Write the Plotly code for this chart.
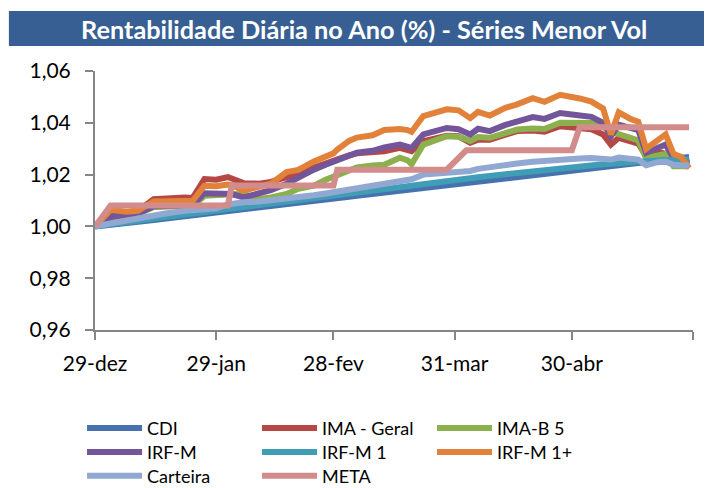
import plotly.graph_objects as go

dates = ["2014-12-29", "2015-01-02", "2015-01-06", "2015-01-09", "2015-01-13", "2015-01-16",
         "2015-01-21", "2015-01-23", "2015-01-26", "2015-01-29", "2015-02-01", "2015-02-02",
         "2015-02-05", "2015-02-09", "2015-02-12", "2015-02-16", "2015-02-19", "2015-02-23",
         "2015-02-26", "2015-02-28", "2015-03-01", "2015-03-04", "2015-03-06", "2015-03-10",
         "2015-03-13", "2015-03-17", "2015-03-19", "2015-03-20", "2015-03-23", "2015-03-26",
         "2015-03-29", "2015-04-01", "2015-04-04", "2015-04-06", "2015-04-09", "2015-04-13",
         "2015-04-16", "2015-04-20", "2015-04-23", "2015-04-27", "2015-04-30", "2015-05-02",
         "2015-05-05", "2015-05-08", "2015-05-10", "2015-05-12", "2015-05-15", "2015-05-17",
         "2015-05-19", "2015-05-22", "2015-05-24", "2015-05-26", "2015-05-28", "2015-05-30"]

cdi = [1.0000, 1.0005, 1.0012, 1.0018, 1.0025, 1.0030, 1.0039, 1.0042, 1.0048, 1.0053,
       1.0058, 1.0060, 1.0066, 1.0073, 1.0078, 1.0085, 1.0090, 1.0098, 1.0103, 1.0107,
       1.0109, 1.0114, 1.0118, 1.0125, 1.0130, 1.0138, 1.0141, 1.0143, 1.0148, 1.0154,
       1.0159, 1.0165, 1.0170, 1.0174, 1.0179, 1.0186, 1.0192, 1.0198, 1.0203, 1.0210,
       1.0215, 1.0219, 1.0224, 1.0229, 1.0233, 1.0237, 1.0242, 1.0245, 1.0249, 1.0254,
       1.0257, 1.0261, 1.0264, 1.0268]

ima_geral = [1.0000, 1.0060, 1.0055, 1.0060, 1.0105, 1.0109, 1.0112, 1.0110, 1.0183, 1.0180,
             1.0190, 1.0185, 1.0167, 1.0165, 1.0172, 1.0190, 1.0206, 1.0232, 1.0248, 1.0256,
             1.0262, 1.0274, 1.0282, 1.0285, 1.0290, 1.0303, 1.0298, 1.0290, 1.0329, 1.0340,
             1.0350, 1.0348, 1.0323, 1.0335, 1.0335, 1.0354, 1.0368, 1.0370, 1.0366, 1.0387,
             1.0383, 1.0380, 1.0375, 1.0355, 1.0316, 1.0342, 1.0330, 1.0320, 1.0271, 1.0288,
             1.0280, 1.0258, 1.0250, 1.0238]

ima_b5 = [1.0000, 1.0030, 1.0042, 1.0048, 1.0075, 1.0076, 1.0078, 1.0080, 1.0118, 1.0122,
          1.0125, 1.0124, 1.0125, 1.0106, 1.0112, 1.0125, 1.0145, 1.0157, 1.0180, 1.0192,
          1.0200, 1.0222, 1.0228, 1.0235, 1.0238, 1.0265, 1.0255, 1.0240, 1.0316, 1.0332,
          1.0348, 1.0346, 1.0330, 1.0345, 1.0342, 1.0360, 1.0374, 1.0378, 1.0376, 1.0400,
          1.0400, 1.0400, 1.0399, 1.0385, 1.0365, 1.0356, 1.0345, 1.0332, 1.0264, 1.0272,
          1.0280, 1.0232, 1.0230, 1.0232]

irf_m = [1.0000, 1.0036, 1.0045, 1.0050, 1.0078, 1.0078, 1.0080, 1.0082, 1.0128, 1.0127,
         1.0128, 1.0125, 1.0112, 1.0130, 1.0140, 1.0165, 1.0190, 1.0219, 1.0238, 1.0250,
         1.0258, 1.0275, 1.0285, 1.0292, 1.0305, 1.0316, 1.0310, 1.0303, 1.0355, 1.0370,
         1.0380, 1.0375, 1.0355, 1.0377, 1.0368, 1.0392, 1.0405, 1.0422, 1.0415, 1.0438,
         1.0432, 1.0428, 1.0423, 1.0400, 1.0348, 1.0393, 1.0380, 1.0372, 1.0284, 1.0305,
         1.0316, 1.0264, 1.0255, 1.0245]

irf_m1 = [1.0000, 1.0006, 1.0015, 1.0022, 1.0030, 1.0036, 1.0045, 1.0048, 1.0055, 1.0060,
          1.0066, 1.0068, 1.0075, 1.0082, 1.0088, 1.0094, 1.0100, 1.0110, 1.0116, 1.0120,
          1.0122, 1.0128, 1.0132, 1.0140, 1.0146, 1.0154, 1.0156, 1.0157, 1.0165, 1.0170,
          1.0176, 1.0182, 1.0187, 1.0190, 1.0195, 1.0202, 1.0207, 1.0213, 1.0218, 1.0224,
          1.0228, 1.0232, 1.0236, 1.0240, 1.0242, 1.0245, 1.0248, 1.0250, 1.0252, 1.0254,
          1.0255, 1.0256, 1.0257, 1.0258]

irf_m1_plus = [1.0000, 1.0064, 1.0057, 1.0060, 1.0096, 1.0096, 1.0098, 1.0099, 1.0157, 1.0155,
               1.0162, 1.0160, 1.0138, 1.0152, 1.0165, 1.0210, 1.0218, 1.0251, 1.0270, 1.0282,
               1.0297, 1.0330, 1.0343, 1.0352, 1.0372, 1.0376, 1.0372, 1.0365, 1.0426, 1.0438,
               1.0452, 1.0448, 1.0418, 1.0442, 1.0428, 1.0458, 1.0471, 1.0495, 1.0481, 1.0508,
               1.0502, 1.0494, 1.0482, 1.0455, 1.0355, 1.0440, 1.0415, 1.0404, 1.0300, 1.0330,
               1.0355, 1.0280, 1.0268, 1.0225]

carteira = [1.0000, 1.0012, 1.0025, 1.0032, 1.0045, 1.0050, 1.0060, 1.0063, 1.0068, 1.0070,
            1.0085, 1.0088, 1.0093, 1.0096, 1.0100, 1.0106, 1.0112, 1.0120, 1.0127, 1.0132,
            1.0140, 1.0146, 1.0152, 1.0160, 1.0168, 1.0180, 1.0180, 1.0182, 1.0200, 1.0203,
            1.0207, 1.0210, 1.0214, 1.0222, 1.0230, 1.0238, 1.0243, 1.0250, 1.0254, 1.0259,
            1.0261, 1.0262, 1.0264, 1.0262, 1.0258, 1.0266, 1.0262, 1.0258, 1.0236, 1.0248,
            1.0250, 1.0238, 1.0236, 1.0235]

meta_dates = ["2014-12-29", "2015-01-02", "2015-02-01", "2015-02-02", "2015-02-28", "2015-03-01",
              "2015-03-29", "2015-04-03", "2015-04-30", "2015-05-02", "2015-05-30"]
meta = [1.0000, 1.0081, 1.0081, 1.0158, 1.0158, 1.0219, 1.0219, 1.0294, 1.0294, 1.0383, 1.0383]

tick_dates = ["2014-12-29", "2015-01-29", "2015-02-28", "2015-03-31", "2015-04-30", "2015-05-31"]
tick_labels = ["29-dez", "29-jan", "28-fev", "31-mar", "30-abr", ""]

# (name, x, y, colour, legend row)
series = [
    ("CDI", dates, cdi, "#4673B0", "legend"),
    ("IMA - Geral", dates, ima_geral, "#B54744", "legend"),
    ("IMA-B 5", dates, ima_b5, "#8DB04E", "legend"),
    ("IRF-M", dates, irf_m, "#735699", "legend2"),
    ("IRF-M 1", dates, irf_m1, "#3F9DB6", "legend2"),
    ("IRF-M 1+", dates, irf_m1_plus, "#E2823A", "legend2"),
    ("Carteira", dates, carteira, "#91A9D2", "legend3"),
    ("META", meta_dates, meta, "#D38C8C", "legend3"),
]

FONT = "Lato, 'Open Sans', sans-serif"

fig = go.Figure()
for name, xs, ys, color, lg in series:
    fig.add_trace(go.Scatter(x=xs, y=ys, name=name, mode="lines", legend=lg,
                             line=dict(color=color, width=6)))


def legend_row(ypos):
    return dict(orientation="h", x=-0.0217, y=ypos, xanchor="left", yanchor="middle",
                itemwidth=55, entrywidth=105, entrywidthmode="pixels",
                font=dict(family=FONT, size=18, color="black"),
                traceorder="normal", bgcolor="rgba(0,0,0,0)")


# the page body adds an 8px offset, so the figure is 8px smaller than the window
fig.update_layout(
    width=704, height=480,
    margin=dict(l=87, r=19, t=63, b=158, autoexpand=False),
    paper_bgcolor="white", plot_bgcolor="white",
    separators=",.",
    font=dict(family=FONT, size=20, color="black"),
    showlegend=True,
    legend=legend_row(-0.3795),
    legend2=legend_row(-0.4726),
    legend3=legend_row(-0.5637),
    shapes=[dict(type="rect", xref="paper", yref="paper",
                 x0=-0.144, x1=1.04, y0=1.097, y1=1.232,
                 fillcolor="#375F93", line=dict(width=0), layer="below")],
    annotations=[dict(text="<b>Rentabilidade Diária no Ano (%) - Séries Menor Vol</b>",
                      xref="paper", yref="paper", x=0.45, y=1.163,
                      xanchor="center", yanchor="middle", showarrow=False,
                      font=dict(family=FONT, size=25.3, color="white"))],
)

fig.update_xaxes(type="date", range=["2014-12-29", "2015-05-31"],
                 tickmode="array", tickvals=tick_dates, ticktext=tick_labels,
                 showline=True, linecolor="#868686", linewidth=2,
                 ticks="outside", ticklen=8, tickwidth=2, tickcolor="#868686",
                 showgrid=False, zeroline=False, ticklabelstandoff=6,
                 tickfont=dict(family=FONT, size=21, color="black"))
fig.update_yaxes(range=[0.96, 1.06], dtick=0.02, tick0=0.96, tickformat=".2f",
                 showline=True, linecolor="#868686", linewidth=2,
                 ticks="outside", ticklen=8, tickwidth=2, tickcolor="#868686",
                 showgrid=False, zeroline=False, ticklabelstandoff=10,
                 tickfont=dict(family=FONT, size=21, color="black"))

fig.write_html("out.html")
